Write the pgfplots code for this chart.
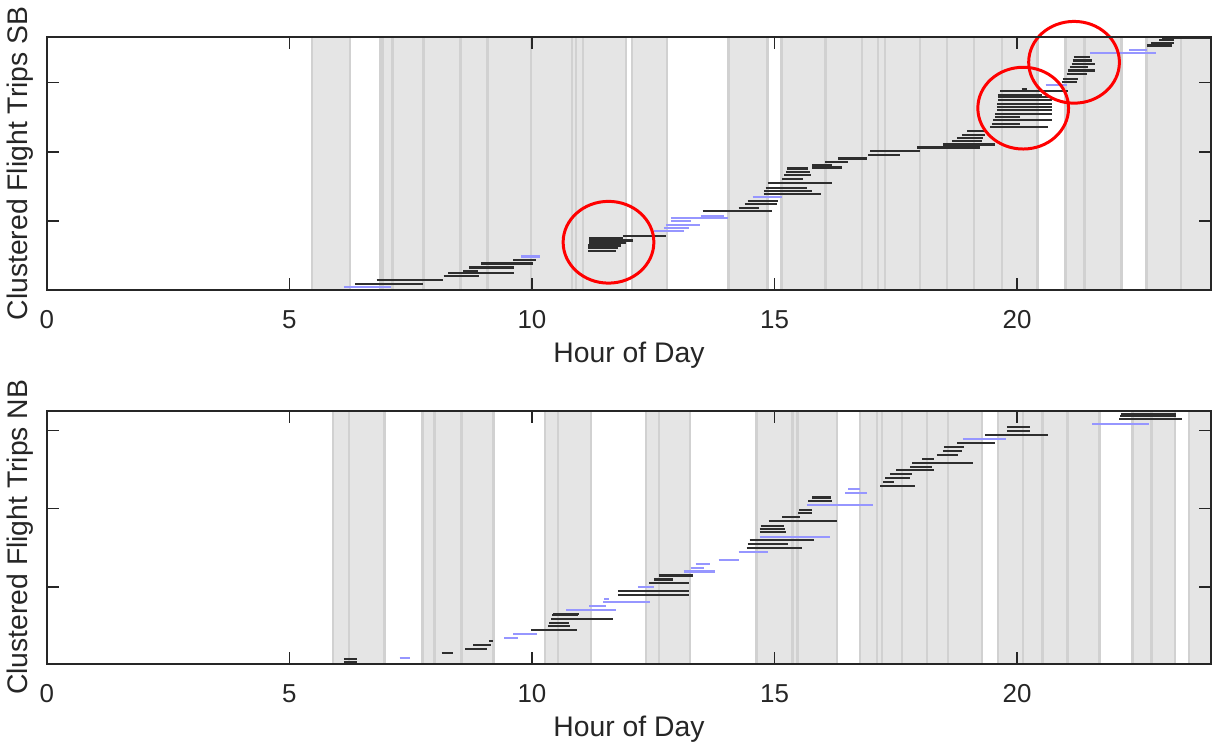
\documentclass[border=0pt]{standalone}
\usepackage{pgfplots}
\usepackage{pgfplotstable}
\pgfplotsset{compat=1.18}
\usepackage{fontspec}
\setmainfont{Liberation Sans}
\definecolor{bandfill}{gray}{0.9}
\definecolor{bandline}{gray}{0.82}
\definecolor{seg}{gray}{0.18}
\definecolor{lb}{RGB}{150,150,255}
\definecolor{ax}{RGB}{38,38,38}

\pgfplotstableread{
x u y
6.349 1.397 6
6.801 1.356 9.7
8.178 0.740 13.7
8.280 1.356 17
8.588 0.308 19.3
8.712 0.925 22.7
8.958 1.068 26.7
9.616 0.473 30.3
11.157 0.575 39.3
11.157 0.616 42
11.157 0.678 44.7
11.177 0.760 47
11.177 0.904 49.7
11.177 0.699 52
11.876 0.884 54.7
13.520 1.438 79.3
14.259 0.411 82.7
14.383 0.678 86
14.444 0.637 89.3
14.773 1.192 96.3
14.793 0.986 99.3
14.814 0.863 102.7
14.855 1.336 107
15.163 0.431 111.3
15.205 0.555 115.3
15.246 0.493 118.7
15.266 0.431 122
15.780 0.616 123
15.780 0.411 125.3
16.047 0.473 128.7
16.314 0.596 132
16.931 0.657 135.3
16.972 1.027 139.3
17.937 1.294 143
18.471 1.068 146
18.656 0.616 149.7
18.759 0.534 152.7
18.862 0.473 156
18.965 0.370 159.3
19.437 1.192 163.7
19.478 0.575 167
19.499 1.212 170.3
19.540 0.514 173.7
19.540 1.171 177
19.581 1.130 180.3
19.581 1.130 183.7
19.581 1.130 187
19.601 1.110 190.3
19.601 1.110 193.7
19.601 0.904 196
19.643 1.397 199.3
20.095 0.103 202
20.916 0.308 208.7
20.937 0.308 212
21.019 0.411 217
21.040 0.555 220.3
21.081 0.370 223.7
21.122 0.473 227
21.143 0.390 230.3
21.163 0.329 233.7
22.684 0.514 245.3
22.766 0.473 248
22.930 0.308 251.3
22.991 1.000 252.7
}\topblack

\pgfplotstableread{
x u y
6.123 0.966 2.7
9.780 0.390 33.7
12.513 0.616 59
12.718 0.514 62
12.760 0.699 65.3
12.862 0.411 69.3
12.862 1.171 72
13.479 0.473 74.7
14.547 0.616 93
20.588 0.431 205.3
21.492 1.377 237.7
22.313 0.370 241
}\topblue

\pgfplotstableread{
x u y
6.123 0.267 2
6.123 0.267 5
8.137 0.226 11
8.630 0.452 14.7
8.794 0.370 18.7
9.123 0.082 22.7
9.986 0.945 33.7
10.335 0.452 37.7
10.355 0.411 41.3
10.397 1.274 45.3
10.417 0.534 48.7
10.438 0.534 50.3
11.773 1.459 69.3
11.773 1.459 73.3
12.410 0.822 81
12.513 0.390 84.7
12.616 0.699 88.7
14.424 1.151 116
14.444 0.842 120
14.485 1.336 124
14.691 0.555 132
14.691 0.534 135.3
14.712 0.473 138.7
14.876 1.418 143.7
15.163 0.370 147
15.492 0.288 151.3
15.513 0.267 154.7
15.698 0.493 163.3
15.780 0.390 167
17.177 0.719 178.7
17.239 0.226 182.7
17.280 0.514 186.3
17.383 0.452 190.3
17.506 0.781 194.3
17.793 0.452 198
17.834 1.253 202
18.040 0.247 206
18.348 0.431 209.7
18.471 0.390 213.7
18.492 0.411 218
18.759 0.781 222
19.334 1.294 229.7
19.786 0.473 233.7
19.786 0.473 237.7
22.108 1.294 245.3
22.129 1.151 248.7
22.149 1.130 250.3
22.519 0.781 253.7
}\botblack

\pgfplotstableread{
x u y
7.274 0.205 6.3
9.431 0.288 26.3
9.616 0.493 30.3
10.705 1.027 53.7
11.177 0.349 58
11.465 0.966 62
11.486 0.103 65.3
12.184 0.329 77
13.129 0.637 92.7
13.273 0.267 96.3
13.376 0.288 100.3
13.848 0.411 104.7
14.259 0.616 112
14.691 1.459 127.7
15.677 1.356 159.3
16.458 0.452 171.3
16.520 0.247 175.3
18.882 0.884 226
21.553 1.171 241
}\botblue

\pgfplotsset{
  panel/.style={
    scale only axis, width=584pt, height=127pt,
    xmin=0, xmax=24, ymin=0, ymax=254,
    xtick={0,5,10,15,20},
    yticklabels={},
    tick align=inside,
    major tick length=6pt,
    axis line style={ax, line width=0.8pt},
    every tick/.style={ax, line width=0.8pt},
    tick label style={font=\fontsize{13}{15}\selectfont, text=ax},
    /pgf/number format/assume math mode=true,
    xticklabel style={anchor=center, yshift=-15pt},
    xlabel={Hour of Day},
    every axis x label/.style={at={(axis description cs:0.5,-0.256)}, anchor=center,
      font=\fontsize{14.2}{16}\selectfont, text=ax},
    every axis y label/.style={at={(axis description cs:-0.0231,0.5)}, anchor=center, rotate=90,
      font=\fontsize{14.2}{16}\selectfont, text=ax},
    clip=false,
    axis on top,
  },
  segblack/.style={quiver={u=\thisrow{u},v=0}, seg, line width=1.05pt},
  segblue/.style={quiver={u=\thisrow{u},v=0}, lb, line width=1.05pt},
}

\begin{document}
\begin{tikzpicture}
\begin{axis}[panel, ytick={69.4,138.8,208.2}, ylabel={Clustered Flight Trips SB}]
\addplot[const plot, fill=bandfill, draw=none] coordinates {
(0,0) (5.465,254) (6.246,0) (6.863,254) (11.938,0) (12.061,254) (12.780,0)
(14.054,254) (14.855,0) (15.143,254) (20.423,0) (20.998,254) (22.149,0)
(22.663,254) (24,254)} \closedcycle;
\addplot[ycomb, bandline, line width=1.2pt, mark=none] coordinates {
(5.465,254) (6.246,254) (6.863,254) (6.924,254) (7.130,254) (7.767,254)
(8.527,254) (9.082,254) (9.986,254) (10.828,254) (10.910,254) (11.054,254)
(11.938,254) (12.061,254) (12.780,254) (14.054,254) (14.855,254) (15.143,254)
(16.047,254) (16.807,254) (17.136,254) (17.280,254) (17.999,254) (18.554,254)
(19.108,254) (19.684,254) (20.423,254) (20.998,254) (21.389,254) (22.149,254)
(22.663,254) (23.382,254)};
\addplot[segblue] table[x=x,y=y] {\topblue};
\addplot[segblack] table[x=x,y=y] {\topblack};
\draw[red, line width=1.5pt] (axis cs:11.578,48) ellipse [x radius=22.75pt, y radius=20.5pt];
\draw[red, line width=1.5pt] (axis cs:20.125,182.5) ellipse [x radius=22.75pt, y radius=20.5pt];
\draw[red, line width=1.5pt] (axis cs:21.173,228.5) ellipse [x radius=22.75pt, y radius=20.5pt];
\end{axis}

\begin{axis}[panel, at={(0,-187.5pt)}, ytick={77,156,234}, ylabel={Clustered Flight Trips NB}]
\addplot[const plot, fill=bandfill, draw=none] coordinates {
(0,0) (5.897,254) (6.965,0) (7.746,254) (9.205,0) (10.273,254) (11.218,0)
(12.349,254) (13.253,0) (14.629,254) (16.293,0) (16.766,254) (19.273,0)
(19.601,254) (21.697,0) (22.375,254) (23.259,0) (23.547,254) (24,254)} \closedcycle;
\addplot[ycomb, bandline, line width=1.2pt, mark=none] coordinates {
(5.897,254) (6.226,254) (6.965,254) (7.746,254) (7.993,254) (8.547,254)
(9.205,254) (10.273,254) (10.540,254) (11.218,254) (12.349,254) (12.616,254)
(13.253,254) (14.629,254) (15.369,254) (15.472,254) (16.293,254) (16.766,254)
(17.115,254) (17.218,254) (17.629,254) (18.143,254) (18.574,254) (19.273,254)
(19.601,254) (20.115,254) (20.526,254) (21.040,254) (21.697,254) (22.375,254)
(22.766,254) (23.259,254) (23.547,254)};
\addplot[segblue] table[x=x,y=y] {\botblue};
\addplot[segblack] table[x=x,y=y] {\botblack};
\end{axis}
\end{tikzpicture}
\end{document}
